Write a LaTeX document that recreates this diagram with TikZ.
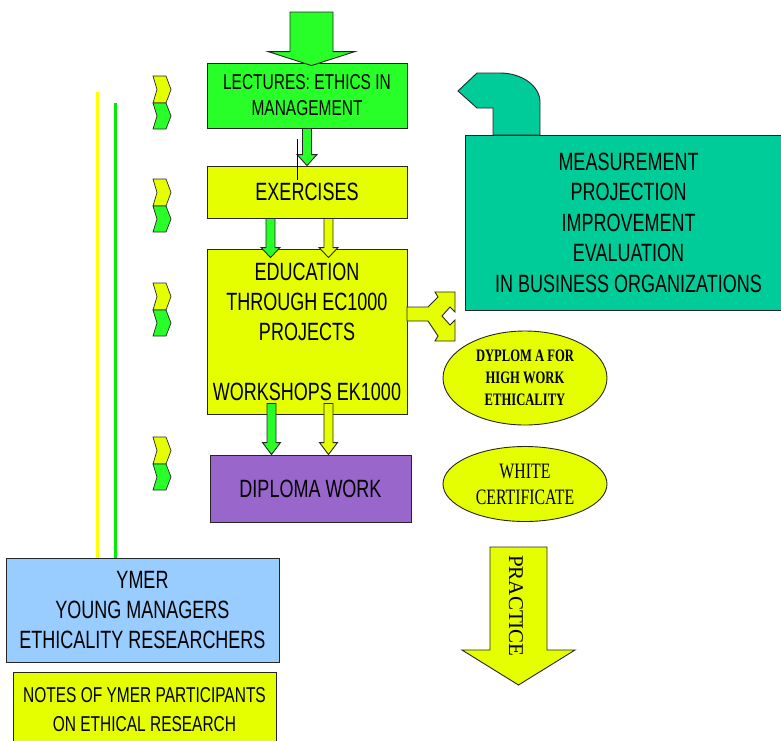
\documentclass[tikz,border=0pt]{standalone}
\usepackage{fontspec}
\setmainfont{Liberation Sans}[FakeStretch=0.72]
\newfontfamily\serifnarrow{Liberation Serif}[FakeStretch=0.72]
\newfontfamily\serifwide{Liberation Serif}
\usetikzlibrary{shapes.geometric,calc}

\definecolor{lecgreen}{RGB}{40,255,40}
\definecolor{yel}{RGB}{230,255,0}
\definecolor{tealbox}{RGB}{0,204,153}
\definecolor{purp}{RGB}{153,102,204}
\definecolor{ymerblue}{RGB}{153,204,255}
\definecolor{lineyel}{RGB}{255,255,0}
\definecolor{linegreen}{RGB}{0,235,0}

\tikzset{
  box/.style={draw=black!85, line width=0.9pt, align=center, inner sep=0pt},
  ell/.style={ellipse, draw=black!85, line width=0.9pt, fill=yel, inner sep=0pt, align=center},
  chev/.style={draw=black!85, line width=0.7pt, fill=#1},
  vline/.style={draw=#1, line width=3pt},
  blockdown/.style n args={4}{draw=black!85, line width=0.9pt, fill=#1,
    to path={let \p1=(\tikztostart), \p2=(\tikztotarget) in
      (\x1-#2,\y1) -- (\x1+#2,\y1) -- (\x1+#2,\y2+#4) -- (\x1+#3,\y2+#4)
      -- (\x1,\y2) -- (\x1-#3,\y2+#4) -- (\x1-#2,\y2+#4) -- cycle}},
}

\begin{document}
\begin{tikzpicture}[x=1pt,y=-1pt]
\useasboundingbox (0,0) rectangle (781,740);
%---boxes-------------------------------------------
\node[box, fill=lecgreen, minimum width=200pt, minimum height=65pt,
  font=\fontsize{21.5}{26}\selectfont] (lect) at (307,95.5) {LECTURES: ETHICS IN\\MANAGEMENT};
\node[box, fill=yel, minimum width=200pt, minimum height=52pt,
  font=\fontsize{25}{30}\selectfont] (exer) at (307,192) {EXERCISES};
\node[box, fill=yel, minimum width=200pt, minimum height=165pt,
  font=\fontsize{25}{30}\selectfont] (edu) at (307,331.5)
  {EDUCATION\\THROUGH EC1000\\PROJECTS\\[30pt]WORKSHOPS EK1000};
\node[box, fill=purp, minimum width=201pt, minimum height=67pt,
  font=\fontsize{25}{30}\selectfont] (dipl) at (310.5,488.5) {DIPLOMA WORK};
%---teal bent arrow + box---------------------------
\draw[draw=black!85, line width=0.9pt, fill=tealbox] (493,135) -- (493,108) -- (477,108)
  -- (458,91) -- (477,73) -- (500,73) .. controls (522,73) and (540,86) .. (540,102)
  -- (540,135) -- cycle;
\node[box, fill=tealbox, minimum width=327pt, minimum height=175pt,
  font=\fontsize{25}{30.5}\selectfont] (meas) at (628.5,222.5)
  {MEASUREMENT\\PROJECTION\\IMPROVEMENT\\EVALUATION\\IN BUSINESS ORGANIZATIONS};
%---ellipses----------------------------------------
\node[ell, minimum width=164pt, minimum height=94pt,
  font=\serifnarrow\bfseries\fontsize{17.5}{22}\selectfont] (dyp) at (525,378)
  {DYPLOM A FOR\\HIGH WORK\\ETHICALITY};
\node[ell, minimum width=164pt, minimum height=75pt,
  font=\serifnarrow\fontsize{22}{26}\selectfont] (white) at (525,484)
  {WHITE\\CERTIFICATE};
%---ymer--------------------------------------------
\node[box, fill=ymerblue, minimum width=273pt, minimum height=104pt,
  font=\fontsize{25}{30}\selectfont] (ymer) at (142.5,610)
  {YMER\\YOUNG MANAGERS\\ETHICALITY RESEARCHERS};
\node[box, fill=yel, minimum width=263pt, minimum height=76pt,
  font=\fontsize{21.5}{29}\selectfont] (notes) at (144.5,710)
  {NOTES OF YMER PARTICIPANTS\\ON ETHICAL RESEARCH};
%---block arrows------------------------------------
\coordinate (intop) at (311.5,12);
\draw[blockdown={lecgreen}{21.5pt}{43.5pt}{14pt}] (intop) to ($(intop |- lect.north)+(0,3)$);
\draw[blockdown={lecgreen}{4.5pt}{10pt}{11pt}] (lect.south) to (exer.north);
\coordinate (g1) at ($(exer.south)+(-36.5,0)$);
\coordinate (y1) at ($(exer.south)+(21.5,0)$);
\draw[blockdown={lecgreen}{4.5pt}{9.5pt}{10pt}] (g1) to ($(g1 |- edu.north)+(0,9)$);
\draw[blockdown={yel}{4.5pt}{9.5pt}{10pt}] (y1) to ($(y1 |- edu.north)+(0,9)$);
\coordinate (g2) at ($(edu.south)+(-35.5,-11)$);
\coordinate (y2) at ($(edu.south)+(21.5,-11)$);
\draw[blockdown={lecgreen}{4.5pt}{9pt}{12pt}] (g2) to (g2 |- dipl.north);
\draw[blockdown={yel}{4.5pt}{9pt}{12pt}] (y2) to (y2 |- dipl.north);
\draw[line width=0.8pt] (297,139) -- (297,180);
%---fork arrow--------------------------------------
\draw[draw=black!85, line width=0.9pt, fill=yel] (407,307) -- (428,307) -- (438,297)
  -- (435,292) -- (455,292) -- (455,312) -- (450,307) -- (442,316) -- (450,325)
  -- (455,320) -- (455,341) -- (435,341) -- (438,336) -- (428,321) -- (407,321) -- cycle;
%---practice----------------------------------------
\coordinate (prtop) at (518.5,547);
\coordinate (prtip) at (518.5,685);
\draw[blockdown={yel}{28.5pt}{56.5pt}{35pt}] (prtop) to (prtip);
\node[rotate=-90, font=\serifwide\fontsize{21}{21}\selectfont] (prlab) at (516,606) {PRACTICE};
%---chevrons----------------------------------------
\foreach \t in {76,179,283,437}{
  \draw[chev=yel] (153,\t) -- (166,\t) -- (171,\t+13.5) -- (166,\t+27) -- (153,\t+27)
    -- (157,\t+13.5) -- cycle;
  \draw[chev=lecgreen] (153,\t+27) -- (166,\t+27) -- (171,\t+40) -- (166,\t+53)
    -- (153,\t+53) -- (157,\t+40) -- cycle;
}
%---side lines--------------------------------------
\coordinate (ytop) at (97,92);
\coordinate (gtop) at (115,103);
\draw[vline=lineyel] (ytop) -- (ytop |- ymer.north);
\draw[vline=linegreen] (gtop) -- (gtop |- ymer.north);
\end{tikzpicture}
\end{document}
